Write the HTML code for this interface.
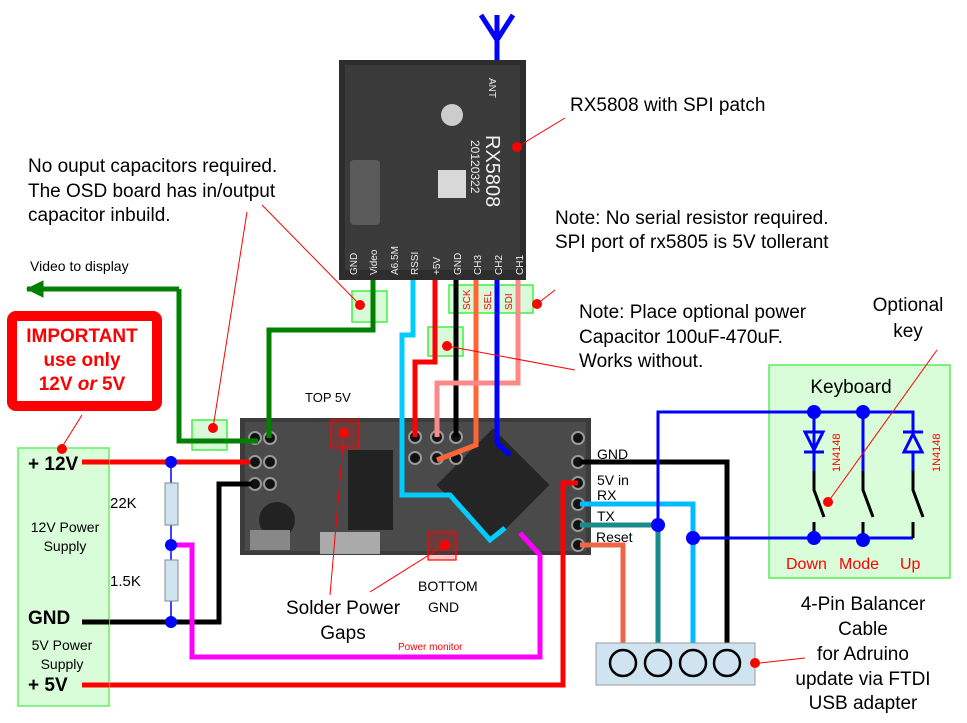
<!DOCTYPE html>
<html><head><meta charset="utf-8"><style>
html,body{margin:0;padding:0;background:#fff;}
svg{display:block;font-family:"Liberation Sans",Arial,sans-serif;}
</style></head><body>
<svg width="967" height="723" viewBox="0 0 967 723" xmlns="http://www.w3.org/2000/svg">
<g>
<path d="M497 15 V60 M481 15 L497 40 L513 15" stroke="#0000ff" stroke-width="5" fill="none"/>
<rect x="339" y="60" width="187" height="220" fill="#2d2d2d"/>
<rect x="345" y="65" width="175" height="205" fill="#3a3a3a"/>
<rect x="350" y="160" width="30" height="65" rx="4" fill="#5a5a5a"/>
<rect x="438" y="170" width="28" height="28" fill="#d8d8d8"/>
<circle cx="452" cy="115" r="11" fill="#ccc"/>
<text x="0" y="0" transform="translate(486,135) rotate(90)" font-size="20" fill="#eee">RX5808</text>
<text x="0" y="0" transform="translate(471,140) rotate(90)" font-size="12" fill="#eee">20120322</text>
<text x="0" y="0" transform="translate(489,78) rotate(90)" font-size="10" fill="#eee">ANT</text>
<g font-size="10" fill="#eee">
<text transform="translate(357,275) rotate(-90)">GND</text>
<text transform="translate(377,275) rotate(-90)">Video</text>
<text transform="translate(398,275) rotate(-90)">A6.5M</text>
<text transform="translate(418,275) rotate(-90)">RSSI</text>
<text transform="translate(440,275) rotate(-90)">+5V</text>
<text transform="translate(461,275) rotate(-90)">GND</text>
<text transform="translate(481,275) rotate(-90)">CH3</text>
<text transform="translate(502,275) rotate(-90)">CH2</text>
<text transform="translate(523,275) rotate(-90)">CH1</text>
</g>
</g>
<g>
<rect x="240" y="418" width="351" height="137" fill="#3c3c3c"/>
<rect x="245" y="422" width="341" height="129" fill="#4a4a4a"/>
<rect x="348" y="450" width="45" height="80" fill="#222"/>
<circle cx="277" cy="520" r="18" fill="#222"/>
<rect x="250" y="530" width="40" height="20" fill="#888"/>
<rect x="320" y="532" width="60" height="22" fill="#aaa"/>
<rect x="453" y="445" width="80" height="80" transform="rotate(45 493 485)" fill="#252525"/>
<g fill="#111" stroke="#999" stroke-width="2">
<circle cx="255" cy="438" r="6"/><circle cx="270" cy="438" r="6"/>
<circle cx="255" cy="462" r="6"/><circle cx="270" cy="462" r="6"/>
<circle cx="255" cy="484" r="6"/><circle cx="270" cy="484" r="6"/>
<circle cx="415" cy="437" r="6"/><circle cx="437" cy="437" r="6"/><circle cx="456" cy="437" r="6"/>
<circle cx="415" cy="458" r="6"/><circle cx="437" cy="458" r="6"/><circle cx="456" cy="458" r="6"/>
<circle cx="578" cy="438" r="6"/><circle cx="578" cy="462" r="6"/><circle cx="578" cy="483" r="6"/>
<circle cx="578" cy="504" r="6"/><circle cx="578" cy="525" r="6"/><circle cx="578" cy="545" r="6"/>
</g>
</g>
<g fill="#aaf5aa" fill-opacity="0.45" stroke="#44ee44" stroke-width="1.5">
<rect x="352" y="291" width="35" height="31"/>
<rect x="449" y="285" width="84" height="28"/>
<rect x="428" y="327" width="35" height="29"/>
<rect x="192" y="420" width="35" height="30"/>
</g>
<g font-size="10" fill="#ff0000">
<text transform="translate(470,310) rotate(-90)">SCK</text>
<text transform="translate(491,310) rotate(-90)">SEL</text>
<text transform="translate(512,310) rotate(-90)">SDI</text>
</g>
<g fill="none" stroke-width="5" stroke-linejoin="miter">
<path d="M179 289 V441 H258" stroke="#008000"/>
<path d="M27 289 H179" stroke="#008000"/>
<path d="M27 289 l16 -8 v16 z" fill="#008000" stroke="#008000" stroke-width="1"/>
<path d="M269 438 V330 H373 V280" stroke="#008000"/>
<path d="M413 280 V335 H402 V495 H450 L490 540 L505 528" stroke="#00ccff"/>
<path d="M435 280 V362 H415 V437" stroke="#ff0000"/>
<path d="M456 280 V437" stroke="#000"/>
<path d="M476 280 V445 L437 460" stroke="#ff6633"/>
<path d="M518 280 V383 H437 V437" stroke="#ff8888"/>
<path d="M497 280 V443 L510 455" stroke="#0000ff"/>
<path d="M82 462 H250" stroke="#ff0000"/>
<path d="M82 622 H219 V484 H252" stroke="#000"/>
<path d="M171 545 H192 V657 H540 V555 L520 533" stroke="#ff00ff"/>
<path d="M82 685 H563 V483 H578" stroke="#ff0000"/>
<path d="M580 462 H727 V655" stroke="#000"/>
<path d="M580 504 H693 V655" stroke="#00bbff"/>
<path d="M580 525 H658 V655" stroke="#1a8a8a"/>
<path d="M580 545 H623 V655" stroke="#ee6644"/>
</g>
<path d="M171 462 V622" stroke="#0000ff" stroke-width="1.5"/>
<rect x="165" y="483" width="13" height="42" fill="#cfe3f0" stroke="#888"/>
<rect x="165" y="560" width="13" height="41" fill="#cfe3f0" stroke="#888"/>
<g fill="#0000ff"><circle cx="171" cy="462" r="6"/><circle cx="171" cy="545" r="6"/><circle cx="171" cy="622" r="6"/></g>
<rect x="18" y="448" width="91" height="258" fill="#d9fcd9" stroke="#66ee66" stroke-width="1.5"/>
<path d="M82 462 H109" stroke="#ff0000" stroke-width="5"/>
<path d="M82 622 H109" stroke="#000" stroke-width="5"/>
<path d="M82 685 H109" stroke="#ff0000" stroke-width="5"/>
<g font-size="19" font-weight="bold" fill="#000">
<text x="28" y="470">+ 12V</text>
<text x="28" y="624">GND</text>
<text x="28" y="691">+ 5V</text>
</g>
<g font-size="14" fill="#000" text-anchor="middle">
<text x="65" y="532">12V Power</text><text x="65" y="551">Supply</text>
<text x="62" y="650">5V Power</text><text x="62" y="669">Supply</text>
</g>
<g font-size="15" fill="#000"><text x="110" y="508">22K</text><text x="110" y="586">1.5K</text></g>
<rect x="12" y="316" width="145" height="90" rx="4" fill="#fff" stroke="#ff0000" stroke-width="10"/>
<g font-size="19" font-weight="bold" fill="#ff0000" text-anchor="middle">
<text x="82" y="342">IMPORTANT</text>
<text x="82" y="366">use only</text>
<text x="82" y="390">12V <tspan font-style="italic">or</tspan> 5V</text>
</g>
<rect x="769" y="365" width="181" height="213" fill="#d9fcd9" stroke="#55ee55" stroke-width="1.5"/>
<text x="851" y="393" font-size="19" text-anchor="middle">Keyboard</text>
<g fill="none" stroke="#0000ff" stroke-width="3">
<path d="M658 525 V412 H913 V432"/>
<path d="M814 412 V471 M863 412 V471 M913 452 V471"/>
<path d="M693 538 H913"/>
<path d="M804 452 H824 M903 432 H923"/>
<path d="M805 432 H823 L814 450 Z M904 452 H922 L913 434 Z"/>
</g>
<g fill="none" stroke="#000" stroke-width="3">
<path d="M814 471 V490 L824 517 M863 471 V490 L873 517 M913 471 V490 L923 517"/>
<path d="M814 522 V538 M863 522 V538 M913 522 V538"/>
</g>
<g fill="#0000ff"><circle cx="814" cy="412" r="7"/><circle cx="863" cy="412" r="7"/><circle cx="658" cy="525" r="7"/><circle cx="693" cy="538" r="7"/><circle cx="814" cy="538" r="7"/><circle cx="863" cy="540" r="7"/></g>
<g font-size="11" fill="#ff0000"><text transform="translate(840,472) rotate(-90)">1N4148</text><text transform="translate(940,472) rotate(-90)">1N4148</text></g>
<g font-size="16" fill="#ff0000"><text x="786" y="569">Down</text><text x="839" y="569">Mode</text><text x="900" y="569">Up</text></g>
<rect x="596" y="643" width="159" height="42" fill="#cfe3f0" stroke="#999"/>
<g fill="none" stroke="#000" stroke-width="2.5"><circle cx="623" cy="663" r="13"/><circle cx="658" cy="663" r="13"/><circle cx="693" cy="663" r="13"/><circle cx="727" cy="663" r="13"/></g>
<g fill="none" stroke="#ff0000" stroke-width="1.2">
<rect x="331" y="420" width="28" height="28" fill="#ff0000" fill-opacity="0.2"/>
<rect x="428" y="532" width="28" height="28" fill="#ff0000" fill-opacity="0.2"/>
</g>
<g stroke="#ff0000" stroke-width="1">
<line x1="213" y1="428" x2="247" y2="212"/>
<line x1="360" y1="305" x2="262" y2="205"/>
<line x1="517" y1="147" x2="565" y2="118"/>
<line x1="537" y1="304" x2="555" y2="290"/>
<line x1="447" y1="346" x2="575" y2="370"/>
<line x1="344" y1="433" x2="330" y2="595"/>
<line x1="445" y1="545" x2="370" y2="592"/>
<line x1="828" y1="502" x2="937" y2="350"/>
<line x1="760" y1="663" x2="805" y2="658"/>
<line x1="62" y1="447" x2="82" y2="415"/>
</g>
<g fill="#ff0000">
<circle cx="517" cy="147" r="5"/><circle cx="537" cy="304" r="5"/><circle cx="447" cy="346" r="5"/>
<circle cx="360" cy="305" r="5"/><circle cx="213" cy="428" r="5"/><circle cx="344" cy="433" r="5"/>
<circle cx="445" cy="545" r="5"/><circle cx="828" cy="502" r="5"/><circle cx="755" cy="663" r="5"/><circle cx="62" cy="449" r="5"/>
</g>
<g font-size="19" fill="#000">
<text x="28" y="172">No ouput capacitors required.</text>
<text x="28" y="197">The OSD board has in/output</text>
<text x="28" y="221">capacitor inbuild.</text>
<text x="570" y="111">RX5808 with SPI patch</text>
<text x="555" y="224">Note: No serial resistor required.</text>
<text x="555" y="248">SPI port of rx5805 is 5V tollerant</text>
<text x="579" y="318">Note: Place optional power</text>
<text x="579" y="343">Capacitor 100uF-470uF.</text>
<text x="579" y="367">Works without.</text>
<text x="908" y="311" text-anchor="middle">Optional</text>
<text x="908" y="337" text-anchor="middle">key</text>
<text x="863" y="610" text-anchor="middle">4-Pin Balancer</text>
<text x="863" y="635" text-anchor="middle">Cable</text>
<text x="863" y="660" text-anchor="middle">for Adruino</text>
<text x="863" y="685" text-anchor="middle">update via FTDI</text>
<text x="863" y="709" text-anchor="middle">USB adapter</text>
<text x="343" y="614" text-anchor="middle">Solder Power</text>
<text x="343" y="639" text-anchor="middle">Gaps</text>
</g>
<g font-size="14" fill="#000">
<text x="30" y="271">Video to display</text>
<text x="597" y="459">GND</text>
<text x="597" y="485">5V in</text>
<text x="597" y="500">RX</text>
<text x="597" y="521">TX</text>
<text x="596" y="542">Reset</text>
<text x="418" y="591">BOTTOM</text>
<text x="428" y="612">GND</text>
</g>
<text x="305" y="402" font-size="13">TOP 5V</text>
<text x="398" y="650" font-size="10" fill="#ff0000">Power monitor</text>
</svg>
</body></html>
